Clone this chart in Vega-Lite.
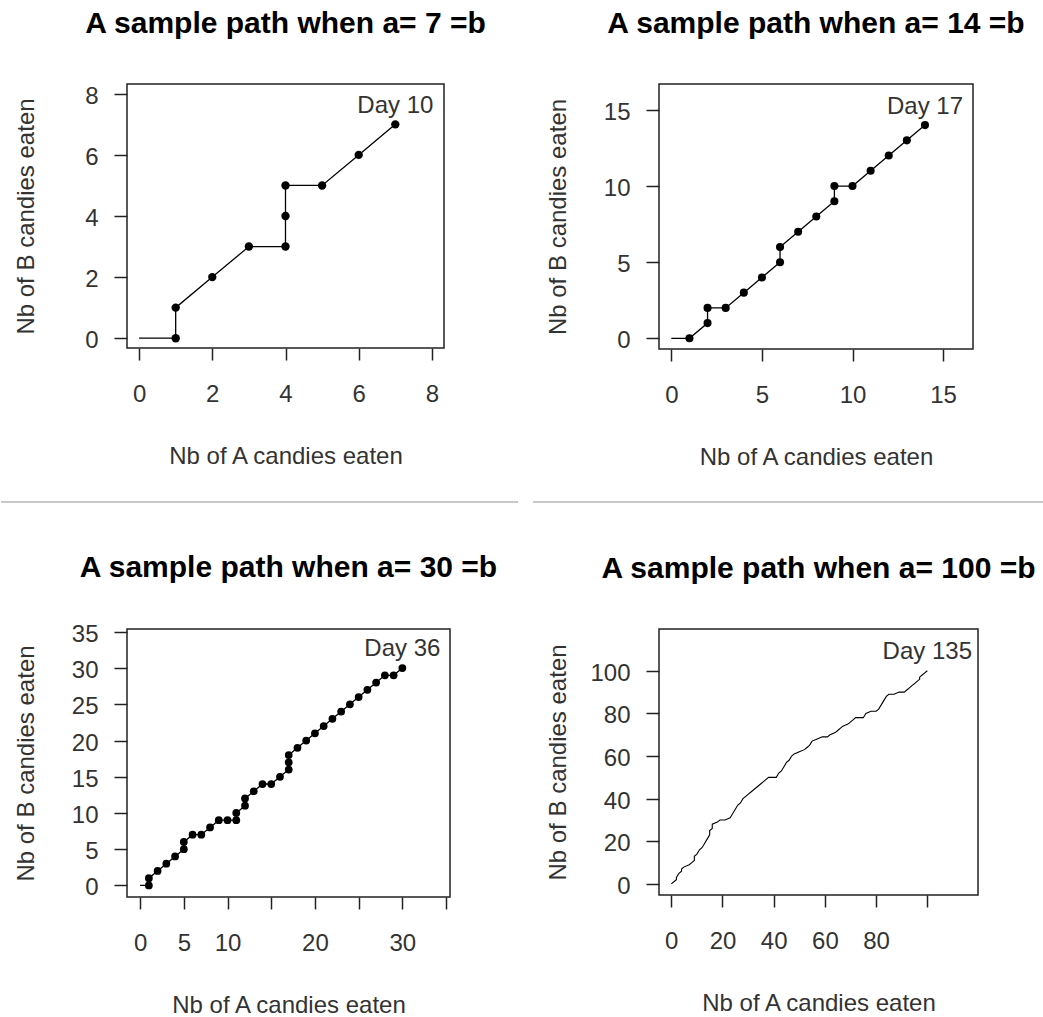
{
  "$schema": "https://vega.github.io/schema/vega-lite/v6.json",
  "padding": {"left": 13, "top": 8, "right": 0, "bottom": 0},
  "background": "white",
  "columns": 2,
  "spacing": {"row": 127, "column": 15},
  "bounds": "flush",
  "align": "each",
  "datasets": {
    "p7": [
      {"day": 0, "a": 0, "b": 0}, {"day": 1, "a": 1, "b": 0}, {"day": 2, "a": 1, "b": 1},
      {"day": 3, "a": 2, "b": 2}, {"day": 4, "a": 3, "b": 3}, {"day": 5, "a": 4, "b": 3},
      {"day": 6, "a": 4, "b": 4}, {"day": 7, "a": 4, "b": 5}, {"day": 8, "a": 5, "b": 5},
      {"day": 9, "a": 6, "b": 6}, {"day": 10, "a": 7, "b": 7}
    ],
    "p14": [
      {"day": 0, "a": 0, "b": 0}, {"day": 1, "a": 1, "b": 0}, {"day": 2, "a": 2, "b": 1},
      {"day": 3, "a": 2, "b": 2}, {"day": 4, "a": 3, "b": 2}, {"day": 5, "a": 4, "b": 3},
      {"day": 6, "a": 5, "b": 4}, {"day": 7, "a": 6, "b": 5}, {"day": 8, "a": 6, "b": 6},
      {"day": 9, "a": 7, "b": 7}, {"day": 10, "a": 8, "b": 8}, {"day": 11, "a": 9, "b": 9},
      {"day": 12, "a": 9, "b": 10}, {"day": 13, "a": 10, "b": 10}, {"day": 14, "a": 11, "b": 11},
      {"day": 15, "a": 12, "b": 12}, {"day": 16, "a": 13, "b": 13}, {"day": 17, "a": 14, "b": 14}
    ],
    "p30": [
      {"day": 0, "a": 0, "b": 0}, {"day": 1, "a": 1, "b": 0}, {"day": 2, "a": 1, "b": 1},
      {"day": 3, "a": 2, "b": 2}, {"day": 4, "a": 3, "b": 3}, {"day": 5, "a": 4, "b": 4},
      {"day": 6, "a": 5, "b": 5}, {"day": 7, "a": 5, "b": 6}, {"day": 8, "a": 6, "b": 7},
      {"day": 9, "a": 7, "b": 7}, {"day": 10, "a": 8, "b": 8}, {"day": 11, "a": 9, "b": 9},
      {"day": 12, "a": 10, "b": 9}, {"day": 13, "a": 11, "b": 9}, {"day": 14, "a": 11, "b": 10},
      {"day": 15, "a": 12, "b": 11}, {"day": 16, "a": 12, "b": 12}, {"day": 17, "a": 13, "b": 13},
      {"day": 18, "a": 14, "b": 14}, {"day": 19, "a": 15, "b": 14}, {"day": 20, "a": 16, "b": 15},
      {"day": 21, "a": 17, "b": 16}, {"day": 22, "a": 17, "b": 17}, {"day": 23, "a": 17, "b": 18},
      {"day": 24, "a": 18, "b": 19}, {"day": 25, "a": 19, "b": 20}, {"day": 26, "a": 20, "b": 21},
      {"day": 27, "a": 21, "b": 22}, {"day": 28, "a": 22, "b": 23}, {"day": 29, "a": 23, "b": 24},
      {"day": 30, "a": 24, "b": 25}, {"day": 31, "a": 25, "b": 26}, {"day": 32, "a": 26, "b": 27},
      {"day": 33, "a": 27, "b": 28}, {"day": 34, "a": 28, "b": 29}, {"day": 35, "a": 29, "b": 29},
      {"day": 36, "a": 30, "b": 30}
    ],
    "p100": [
      {"step": 0, "a": 0, "b": 0}, {"step": 1, "a": 1, "b": 1}, {"step": 2, "a": 2, "b": 2},
      {"step": 3, "a": 2, "b": 3}, {"step": 4, "a": 3, "b": 5}, {"step": 5, "a": 4, "b": 6},
      {"step": 6, "a": 4, "b": 7}, {"step": 7, "a": 5, "b": 8}, {"step": 8, "a": 7, "b": 9},
      {"step": 9, "a": 8, "b": 10}, {"step": 10, "a": 9, "b": 11}, {"step": 11, "a": 9, "b": 13},
      {"step": 12, "a": 10, "b": 14}, {"step": 13, "a": 11, "b": 16}, {"step": 14, "a": 12, "b": 17},
      {"step": 15, "a": 13, "b": 19}, {"step": 16, "a": 14, "b": 21}, {"step": 17, "a": 15, "b": 23},
      {"step": 18, "a": 15, "b": 25}, {"step": 19, "a": 16, "b": 26}, {"step": 20, "a": 16, "b": 28},
      {"step": 21, "a": 18, "b": 29}, {"step": 22, "a": 19, "b": 30}, {"step": 23, "a": 21, "b": 30},
      {"step": 24, "a": 23, "b": 31}, {"step": 25, "a": 24, "b": 33}, {"step": 26, "a": 25, "b": 35},
      {"step": 27, "a": 26, "b": 37}, {"step": 28, "a": 27, "b": 38}, {"step": 29, "a": 28, "b": 40},
      {"step": 30, "a": 30, "b": 42}, {"step": 31, "a": 31, "b": 43}, {"step": 32, "a": 33, "b": 45},
      {"step": 33, "a": 35, "b": 47}, {"step": 34, "a": 36, "b": 48}, {"step": 35, "a": 38, "b": 50},
      {"step": 36, "a": 41, "b": 50}, {"step": 37, "a": 42, "b": 52}, {"step": 38, "a": 43, "b": 53},
      {"step": 39, "a": 44, "b": 55}, {"step": 40, "a": 45, "b": 57}, {"step": 41, "a": 46, "b": 58},
      {"step": 42, "a": 47, "b": 60}, {"step": 43, "a": 48, "b": 61}, {"step": 44, "a": 50, "b": 62},
      {"step": 45, "a": 52, "b": 63}, {"step": 46, "a": 53, "b": 64}, {"step": 47, "a": 54, "b": 65},
      {"step": 48, "a": 55, "b": 67}, {"step": 49, "a": 57, "b": 68}, {"step": 50, "a": 59, "b": 69},
      {"step": 51, "a": 61, "b": 69}, {"step": 52, "a": 62, "b": 70}, {"step": 53, "a": 64, "b": 71},
      {"step": 54, "a": 65, "b": 72}, {"step": 55, "a": 67, "b": 74}, {"step": 56, "a": 69, "b": 75},
      {"step": 57, "a": 71, "b": 77}, {"step": 58, "a": 72, "b": 78}, {"step": 59, "a": 75, "b": 78},
      {"step": 60, "a": 76, "b": 80}, {"step": 61, "a": 78, "b": 81}, {"step": 62, "a": 80, "b": 81},
      {"step": 63, "a": 81, "b": 82}, {"step": 64, "a": 82, "b": 84}, {"step": 65, "a": 83, "b": 86},
      {"step": 66, "a": 84, "b": 88}, {"step": 67, "a": 85, "b": 89}, {"step": 68, "a": 87, "b": 89},
      {"step": 69, "a": 89, "b": 90}, {"step": 70, "a": 91, "b": 90}, {"step": 71, "a": 92, "b": 91},
      {"step": 72, "a": 93, "b": 92}, {"step": 73, "a": 94, "b": 93}, {"step": 74, "a": 95, "b": 94},
      {"step": 75, "a": 96, "b": 95}, {"step": 76, "a": 97, "b": 96}, {"step": 77, "a": 97, "b": 97},
      {"step": 78, "a": 98, "b": 98}, {"step": 79, "a": 99, "b": 99}, {"step": 80, "a": 100, "b": 100}
    ]
  },
  "concat": [
    {
      "width": 317, "height": 264,
      "title": {"text": "A sample path when a= 7 =b", "offset": 45},
      "encoding": {
        "x": {"field": "a", "type": "quantitative", "scale": {"domain": [-0.33, 8.33], "nice": false, "zero": false}, "axis": {"values": [0, 2, 4, 6, 8], "title": "Nb of A candies eaten"}},
        "y": {"field": "b", "type": "quantitative", "scale": {"domain": [-0.32, 8.32], "nice": false, "zero": false}, "axis": {"values": [0, 2, 4, 6, 8], "title": "Nb of B candies eaten"}}
      },
      "layer": [
        {"data": {"name": "p7"}, "mark": {"type": "line", "color": "#000", "strokeWidth": 1.3}, "encoding": {"order": {"field": "day", "type": "quantitative"}}},
        {"data": {"name": "p7"}, "transform": [{"filter": "datum.day > 0"}], "mark": {"type": "circle", "color": "#000", "size": 70, "opacity": 1}},
        {"data": {"values": [{"a": 7, "b": 7, "label": "Day 10"}]}, "mark": {"type": "text", "dy": -11, "baseline": "alphabetic", "fontSize": 24, "color": "#333"}, "encoding": {"text": {"field": "label"}}}
      ]
    },
    {
      "width": 314, "height": 265,
      "title": {"text": "A sample path when a= 14 =b", "offset": 45},
      "encoding": {
        "x": {"field": "a", "type": "quantitative", "scale": {"domain": [-0.68, 16.65], "nice": false, "zero": false}, "axis": {"values": [0, 5, 10, 15], "title": "Nb of A candies eaten"}},
        "y": {"field": "b", "type": "quantitative", "scale": {"domain": [-0.7, 16.7], "nice": false, "zero": false}, "axis": {"values": [0, 5, 10, 15], "title": "Nb of B candies eaten"}}
      },
      "layer": [
        {"data": {"name": "p14"}, "mark": {"type": "line", "color": "#000", "strokeWidth": 1.3}, "encoding": {"order": {"field": "day", "type": "quantitative"}}},
        {"data": {"name": "p14"}, "transform": [{"filter": "datum.day > 0"}], "mark": {"type": "circle", "color": "#000", "size": 65, "opacity": 1}},
        {"data": {"values": [{"a": 14, "b": 14, "label": "Day 17"}]}, "mark": {"type": "text", "dy": -11, "baseline": "alphabetic", "fontSize": 24, "color": "#333"}, "encoding": {"text": {"field": "label"}}}
      ]
    },
    {
      "width": 517, "height": 26,
      "view": {"stroke": null},
      "data": {"values": [{"s": 0}]},
      "mark": {"type": "point", "opacity": 0},
      "encoding": {"x": {"field": "s", "type": "quantitative", "scale": {"domain": [0, 1]}, "axis": {"orient": "bottom", "domain": true, "domainColor": "#c8c8c8", "domainWidth": 2, "ticks": false, "labels": false, "title": null, "offset": 126, "translate": -126}}}
    },
    {
      "width": 511, "height": 26,
      "view": {"stroke": null},
      "data": {"values": [{"s": 0}]},
      "mark": {"type": "point", "opacity": 0},
      "encoding": {"x": {"field": "s", "type": "quantitative", "scale": {"domain": [0, 1]}, "axis": {"orient": "bottom", "domain": true, "domainColor": "#c8c8c8", "domainWidth": 2, "ticks": false, "labels": false, "title": null, "offset": 126, "translate": -126}}}
    },
    {
      "width": 323, "height": 268,
      "title": {"text": "A sample path when a= 30 =b", "offset": 39},
      "encoding": {
        "x": {"field": "a", "type": "quantitative", "scale": {"domain": [-1.5, 35.45], "nice": false, "zero": false}, "axis": {"values": [0, 5, 10, 15, 20, 25, 30, 35], "labelExpr": "datum.value == 15 || datum.value == 25 || datum.value == 35 ? '' : datum.label", "title": "Nb of A candies eaten"}},
        "y": {"field": "b", "type": "quantitative", "scale": {"domain": [-1.6, 35.4], "nice": false, "zero": false}, "axis": {"values": [0, 5, 10, 15, 20, 25, 30, 35], "title": "Nb of B candies eaten"}}
      },
      "layer": [
        {"data": {"name": "p30"}, "mark": {"type": "line", "color": "#000", "strokeWidth": 1.3}, "encoding": {"order": {"field": "day", "type": "quantitative"}}},
        {"data": {"name": "p30"}, "transform": [{"filter": "datum.day > 0"}], "mark": {"type": "circle", "color": "#000", "size": 60, "opacity": 1}},
        {"data": {"values": [{"a": 30, "b": 30, "label": "Day 36"}]}, "mark": {"type": "text", "dy": -12, "baseline": "alphabetic", "fontSize": 24, "color": "#333"}, "encoding": {"text": {"field": "label"}}}
      ]
    },
    {
      "width": 319, "height": 266,
      "title": {"text": "A sample path when a= 100 =b", "offset": 45},
      "encoding": {
        "x": {"field": "a", "type": "quantitative", "scale": {"domain": [-4.8, 119.8], "nice": false, "zero": false}, "axis": {"values": [0, 20, 40, 60, 80, 100], "labelExpr": "datum.value == 100 ? '' : datum.label", "title": "Nb of A candies eaten"}},
        "y": {"field": "b", "type": "quantitative", "scale": {"domain": [-5.2, 119.6], "nice": false, "zero": false}, "axis": {"values": [0, 20, 40, 60, 80, 100], "title": "Nb of B candies eaten"}}
      },
      "layer": [
        {"data": {"name": "p100"}, "mark": {"type": "line", "color": "#000", "strokeWidth": 1.1}, "encoding": {"order": {"field": "step", "type": "quantitative"}}},
        {"data": {"values": [{"a": 100, "b": 100, "label": "Day 135"}]}, "mark": {"type": "text", "dy": -12, "baseline": "alphabetic", "fontSize": 24, "color": "#333"}, "encoding": {"text": {"field": "label"}}}
      ]
    }
  ],
  "config": {
    "font": "Liberation Sans",
    "view": {"stroke": "#222", "strokeWidth": 1.5},
    "axis": {"domain": false, "grid": false, "tickColor": "#222", "tickWidth": 1.5, "labelFontSize": 24, "labelColor": "#333", "titleFontSize": 24, "titleFontWeight": "normal", "titleColor": "#333", "labelOverlap": false, "labelFlush": false, "labelBound": false},
    "axisX": {"tickSize": 12, "labelPadding": 22, "titleY": 115, "titleBaseline": "alphabetic"},
    "axisY": {"tickSize": 13, "labelPadding": 16, "titleX": -94, "titleBaseline": "alphabetic", "labelOffset": 2.5},
    "title": {"fontSize": 30, "fontWeight": "bold", "color": "#000", "anchor": "middle", "frame": "group", "baseline": "alphabetic"}
  }
}
